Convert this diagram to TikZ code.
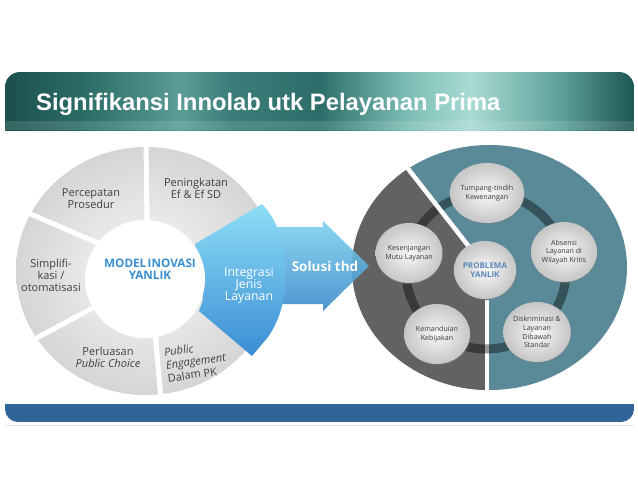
\documentclass[tikz,border=0pt]{standalone}
\usepackage{fontspec}
\setmainfont{Open Sans}
\newfontfamily\titlefont{Liberation Sans}
\usetikzlibrary{shapes.geometric,shadows}
\definecolor{hA}{HTML}{1B4F4C}
\definecolor{hB}{HTML}{2B6B66}
\definecolor{hC}{HTML}{5B9C96}
\definecolor{hD}{HTML}{3B7D78}
\definecolor{hE}{HTML}{2E6E6A}
\definecolor{hF}{HTML}{7CBDB5}
\definecolor{hG}{HTML}{A9DBD3}
\definecolor{hH}{HTML}{5FA29B}
\definecolor{hI}{HTML}{1D5652}
\definecolor{barblue}{HTML}{31659A}
\definecolor{barline}{HTML}{D8E6EE}
\definecolor{teal1}{HTML}{5A8A98}
\definecolor{grey1}{HTML}{626262}
\definecolor{ballin}{HTML}{F8F8F8}
\definecolor{ballout}{HTML}{C6C6C6}
\definecolor{balltext}{HTML}{3A3A3A}
\definecolor{probblue}{HTML}{5A88B8}
\definecolor{txtgray}{HTML}{404040}
\definecolor{modelblue}{HTML}{3A8FD0}
\definecolor{ringin}{HTML}{F8F8F8}
\definecolor{ringout}{HTML}{D5D5D5}
\definecolor{segtop}{HTML}{8EDEF6}
\definecolor{segbot}{HTML}{3A8DD4}
\definecolor{arrtop}{HTML}{80D2EF}
\definecolor{arrbot}{HTML}{3A8ACB}
\pgfdeclarehorizontalshading{hdrshade}{100bp}{color(0bp)=(hA); color(25bp)=(hA); color(31bp)=(hB); color(39bp)=(hC); color(43bp)=(hD); color(50bp)=(hE); color(57bp)=(hF); color(62bp)=(hG); color(69bp)=(hH); color(75bp)=(hI); color(100bp)=(hI)}
\tikzset{
  segtxt/.style={align=center, text=txtgray, inner sep=0pt, font=\fontsize{11}{12}\selectfont},
  ball/.style={ellipse, minimum width=66pt, minimum height=60pt, inner sep=0pt, align=center,
    inner color=ballin, outer color=ballout, text=balltext, font=\fontsize{7.1}{8.7}\selectfont,
    drop shadow={shadow xshift=0.8pt, shadow yshift=-1.5pt, opacity=0.3}},
  gapline/.style={white, line width=5pt},
  rgap/.style={white, line width=4.5pt}
}
\begin{document}
\begin{tikzpicture}[x=1pt,y=-1pt]
\useasboundingbox (0,0) rectangle (638,493);
\fill[white] (0,0) rectangle (638,493);

% header bar
\begin{scope}
  \clip[rounded corners=15pt] (5,72) rectangle (634,170);
  \shade[shading=hdrshade] (5,72) rectangle (634,130);
  \fill[white, opacity=0.12] (5,121) rectangle (634,130);
\end{scope}
\node[anchor=west, inner sep=0pt, text=white, font=\titlefont\bfseries\fontsize{23.8}{28}\selectfont] (title) at (36,104) {Signifikansi Innolab utk Pelayanan Prima};

% bottom bar
\begin{scope}
  \clip[rounded corners=13pt] (5,360) rectangle (634,422);
  \fill[barblue] (5,404) rectangle (634,422);
\end{scope}
\draw[barline, line width=1pt] (5,425.5) -- (634,425.5);

% right circle
\fill[teal1] (489.5,267.5) ellipse [x radius=137.5, y radius=122.5];
\begin{scope}
  \clip (489.5,267.5) ellipse [x radius=137.5, y radius=122.5];
  \fill[grey1] (487,269) -- (487,400) -- (340,400) -- (340,130) -- (377,130) -- cycle;
\end{scope}
\draw[rgap] (487,300) -- (487,392);
\draw[draw=black, draw opacity=0.4, line width=9pt] (486,271) ellipse [x radius=80, y radius=78];
\draw[rgap] (395,152) -- (470,248);

\node[ball] (tump) at (487,193) {Tumpang-tindih\\Kewenangan};
\node[ball] (abs) at (564,252) {Absensi\\Layanan di\\Wilayah Kritis};
\node[ball] (kes) at (409,253) {Kesenjangan\\Mutu Layanan};
\node[ball] (kem) at (437,334) {Kemanduian\\Kebijakan};
\node[ball] (dis) at (537,332) {Diskriminasi \&\\Layanan\\Dibawah\\Standar};
\node[ball, minimum width=62pt, minimum height=58pt, text=probblue, font=\bfseries\fontsize{8}{9.5}\selectfont] (prob) at (485,270) {PROBLEMA\\YANLIK};

% Solusi arrow
\shade[top color=arrtop, bottom color=arrbot, opacity=0.9] (255,227) -- (323,227) -- (323,221) -- (369,266) -- (323,311) -- (323,304) -- (255,304) -- cycle;

% left ring
\shade[inner color=ringin, outer color=ringout] (146,271) ellipse [x radius=130, y radius=124];
\draw[gapline] (146,138) -- (147,226);
\draw[gapline] (3,202) -- (100,244);
\draw[gapline] (5,355) -- (100,304);
\draw[gapline] (155,330) -- (161,400);

% blue segment
\shade[top color=segtop, bottom color=segbot] (195,244) -- (262,204) .. controls (292,235) and (294,300) .. (268,337) -- (252,356) -- (199,311) -- (203,300) -- cycle;

% inner circle
\fill[white] (145,279) ellipse [x radius=60, y radius=59];

% texts left
\node[segtxt] (percep) at (91,199) {Percepatan\\Prosedur};
\node[segtxt] (pening) at (196,188) {Peningkatan\\Ef \& Ef SD};
\node[segtxt] (simpl) at (51,275) {Simplifi-\\kasi /\\otomatisasi};
\node[segtxt] (perlu) at (108,357.5) {Perluasan\\\textit{Public Choice}};
\node[segtxt, align=left, rotate=8, font=\fontsize{11}{13}\selectfont] (pe) at (196,361) {\textit{Public}\\\textit{Engagement}\\Dalam PK};
\node[align=center, inner sep=0pt, text=modelblue, font=\bfseries\fontsize{11.7}{12}\selectfont] (model) at (150,269) {MODEL\hspace{0.12em}INOVASI\\YANLIK};
\node[align=center, inner sep=0pt, text=white, font=\fontsize{12.3}{12}\selectfont] (integ) at (249,285) {Integrasi\\Jenis\\Layanan};
\node[inner sep=0pt, text=white, font=\bfseries\fontsize{13.5}{16}\selectfont] (solusi) at (325,266) {Solusi thd};
\end{tikzpicture}
\end{document}
